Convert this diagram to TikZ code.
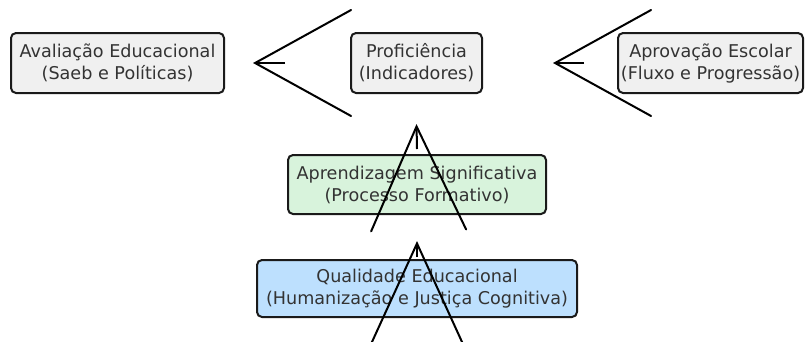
\documentclass[tikz,border=0pt]{standalone}
\usepackage{fontspec}
\setmainfont{DejaVu Sans}
\usetikzlibrary{arrows.meta}
\definecolor{boxgray}{HTML}{F0F0F0}
\definecolor{boxgreen}{HTML}{D8F3DC}
\definecolor{boxblue}{HTML}{BDE0FE}
\definecolor{txt}{HTML}{333333}
\definecolor{edge}{HTML}{1A1A1A}
\begin{document}
\begin{tikzpicture}[x=1pt,y=-1pt,
  box/.style={draw=edge, line width=2pt, rounded corners=5pt, align=center,
    text=txt, font=\fontsize{17.6}{22}\selectfont, inner sep=0pt},
  conn/.style={draw=black, line width=2pt},
  htip/.style={-{Straight Barb[length=96pt,width=106pt,line cap=round]}},
  vtip/.style={-{Straight Barb[length=104pt,width=95pt,line cap=round]}}
]
\useasboundingbox (0,0) rectangle (810,341);
\clip (0,0) rectangle (810,341);
\node[box, fill=boxgray, minimum width=213pt, minimum height=60pt] (aval) at (117.5,63) {Avaliação Educacional\\(Saeb e Políticas)};
\node[box, fill=boxgray, minimum width=131pt, minimum height=60pt] (prof) at (416.5,63) {Proficiência\\(Indicadores)};
\node[box, fill=boxgray, minimum width=185pt, minimum height=60pt] (aprov) at (710.5,63) {Aprovação Escolar\\(Fluxo e Progressão)};
\node[box, fill=boxgreen, minimum width=258pt, minimum height=59pt] (apr) at (417,184.5) {Aprendizagem Significativa\\(Processo Formativo)};
\node[box, fill=boxblue, minimum width=320pt, minimum height=57pt] (qual) at (417,288.5) {Qualidade Educacional\\(Humanização e Justiça Cognitiva)};
\draw[conn, htip] ([xshift=-65pt]prof.west) -- ([xshift=28pt]aval.east);
\draw[conn, htip] ([xshift=-33pt]aprov.west) -- ([xshift=70pt]prof.east);
\draw[conn, vtip] ([yshift=5pt]apr.north) -- ([yshift=-30pt]prof.south);
\draw[conn, vtip] ([yshift=2pt]qual.north) -- ([yshift=-26pt]apr.south);
\end{tikzpicture}
\end{document}
